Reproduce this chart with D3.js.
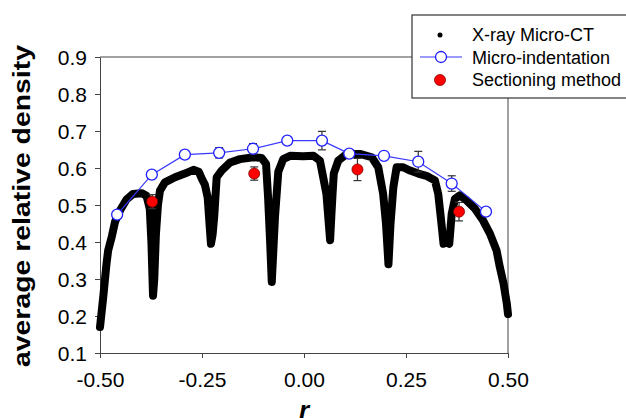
<!DOCTYPE html>
<html>
<head>
<meta charset="utf-8">
<script src="https://cdn.jsdelivr.net/npm/d3@7"></script>
<style>
  body { margin: 0; background: #fff; }
  svg { display: block; font-family: "Liberation Sans", Arial, sans-serif; }
</style>
</head>
<body>
<div id="chart"></div>
<script>
// X-ray Micro-CT profile
var ctR = [-0.500, -0.492, -0.488, -0.484, -0.480, -0.471, -0.463, -0.451, -0.435, -0.419,
  -0.398, -0.386, -0.378, -0.374, -0.370, -0.367, -0.363, -0.358, -0.353, -0.341,
  -0.316, -0.292, -0.271, -0.258, -0.250, -0.243, -0.236, -0.231, -0.228, -0.224,
  -0.220, -0.214, -0.202, -0.181, -0.157, -0.124, -0.104, -0.093, -0.088, -0.083,
  -0.079, -0.075, -0.071, -0.063, -0.051, -0.034, -0.002, 0.023, 0.039, 0.047,
  0.055, 0.060, 0.064, 0.067, 0.070, 0.073, 0.084, 0.105, 0.137, 0.166,
  0.182, 0.194, 0.201, 0.207, 0.212, 0.219, 0.227, 0.243, 0.260, 0.280,
  0.300, 0.321, 0.329, 0.337, 0.342, 0.350, 0.356, 0.362, 0.370, 0.382,
  0.399, 0.419, 0.439, 0.456, 0.472, 0.480, 0.489, 0.497, 0.500];
var ctD = [0.170, 0.252, 0.297, 0.342, 0.377, 0.415, 0.455, 0.485, 0.515, 0.530,
  0.532, 0.525, 0.490, 0.400, 0.255, 0.300, 0.420, 0.500, 0.539, 0.561,
  0.575, 0.585, 0.595, 0.590, 0.570, 0.555, 0.520, 0.440, 0.395, 0.420,
  0.470, 0.575, 0.593, 0.615, 0.624, 0.629, 0.627, 0.611, 0.520, 0.400,
  0.292, 0.380, 0.470, 0.590, 0.624, 0.633, 0.632, 0.633, 0.620, 0.575,
  0.530, 0.460, 0.405, 0.470, 0.530, 0.585, 0.620, 0.638, 0.638, 0.629,
  0.602, 0.530, 0.449, 0.340, 0.449, 0.548, 0.602, 0.602, 0.593, 0.585,
  0.579, 0.566, 0.530, 0.449, 0.395, 0.400, 0.395, 0.476, 0.517, 0.526,
  0.512, 0.490, 0.458, 0.422, 0.377, 0.332, 0.288, 0.234, 0.205];

// Micro-indentation
var miR = [-0.458, -0.373, -0.292, -0.208, -0.125, -0.041, 0.044, 0.111, 0.196, 0.280, 0.362, 0.446];
var miD = [0.474, 0.582, 0.636, 0.641, 0.652, 0.674, 0.674, 0.639, 0.633, 0.617, 0.558, 0.482];
var miErr = [0.008, 0.010, 0.010, 0.014, 0.014, 0.008, 0.025, 0.008, 0.008, 0.028, 0.021, 0.008];

// Sectioning method
var smR = [-0.372, -0.122, 0.131, 0.380];
var smD = [0.509, 0.585, 0.596, 0.482];
var smErr = [0.019, 0.018, 0.030, 0.025];

var xTicks = [-0.5, -0.25, 0, 0.25, 0.5];
var yTicks = [0.1, 0.2, 0.3, 0.4, 0.5, 0.6, 0.7, 0.8, 0.9];
var legendLabels = ["X-ray Micro-CT", "Micro-indentation", "Sectioning method"];

var width = 626, height = 418;
var svg = d3.select("#chart").append("svg")
    .attr("width", width)
    .attr("height", height);

var x = d3.scaleLinear().domain([-0.5, 0.5]).range([100, 508]);
var y = d3.scaleLinear().domain([0.1, 0.9]).range([353, 57]);

// frame top / right
svg.append("line")
  .attr("x1", x(-0.5)).attr("x2", x(0.5))
  .attr("y1", y(0.9)).attr("y2", y(0.9))
  .attr("stroke", "#444").attr("stroke-width", 1);
svg.append("line")
  .attr("x1", x(0.5)).attr("x2", x(0.5))
  .attr("y1", y(0.9)).attr("y2", y(0.1))
  .attr("stroke", "#444").attr("stroke-width", 1);

// axes
var xAxis = svg.append("g")
  .attr("transform", "translate(0," + y(0.1) + ")")
  .call(d3.axisBottom(x).tickValues(xTicks).tickSize(5).tickSizeOuter(0)
    .tickFormat(function(d) { return d.toFixed(2); }));
var yAxis = svg.append("g")
  .attr("transform", "translate(" + x(-0.5) + ",0)")
  .call(d3.axisLeft(y).tickValues(yTicks).tickSize(5).tickSizeOuter(0)
    .tickFormat(function(d) { return d.toFixed(1); }));

[xAxis, yAxis].forEach(function(a) {
  a.select(".domain").attr("stroke", "#444");
  a.selectAll(".tick line").attr("stroke", "#444");
  a.selectAll("text")
    .attr("fill", "#000")
    .style("font-size", "21px")
    .style("font-family", "'Liberation Sans', Arial, sans-serif");
});
xAxis.selectAll("text").attr("dy", null).attr("y", 34);
yAxis.selectAll("text").attr("x", -13).attr("dy", "0.36em");

// axis titles
svg.append("text")
  .attr("transform", "translate(30," + 206 + ") rotate(-90)")
  .attr("text-anchor", "middle")
  .attr("textLength", 322)
  .attr("lengthAdjust", "spacingAndGlyphs")
  .style("font-size", "23px")
  .style("font-weight", "bold")
  .text("average relative density");
svg.append("text")
  .attr("x", x(0))
  .attr("y", 419)
  .attr("text-anchor", "middle")
  .style("font-size", "26px")
  .style("font-weight", "bold")
  .style("font-style", "italic")
  .text("r");

// Micro-CT curve
var ctData = ctR.map(function(r, i) { return [r, ctD[i]]; });
var line = d3.line()
  .x(function(d) { return x(d[0]); })
  .y(function(d) { return y(d[1]); });
svg.append("path")
  .datum(ctData)
  .attr("d", line)
  .attr("fill", "none")
  .attr("stroke", "#000")
  .attr("stroke-width", 8)
  .attr("stroke-linejoin", "round")
  .attr("stroke-linecap", "round");

// error bars
function errorBars(rs, ds, es) {
  var g = svg.append("g").attr("stroke", "#333").attr("stroke-width", 1.2);
  rs.forEach(function(r, i) {
    var cx = x(r), y0 = y(ds[i] - es[i]), y1 = y(ds[i] + es[i]);
    g.append("line").attr("x1", cx).attr("x2", cx).attr("y1", y0).attr("y2", y1);
    g.append("line").attr("x1", cx - 4).attr("x2", cx + 4).attr("y1", y0).attr("y2", y0);
    g.append("line").attr("x1", cx - 4).attr("x2", cx + 4).attr("y1", y1).attr("y2", y1);
  });
}
errorBars(miR, miD, miErr);
errorBars(smR, smD, smErr);

// Micro-indentation
var miData = miR.map(function(r, i) { return [r, miD[i]]; });
svg.append("path")
  .datum(miData)
  .attr("d", line)
  .attr("fill", "none")
  .attr("stroke", "#3838ff")
  .attr("stroke-width", 1.2);
svg.selectAll(".mi").data(miData).enter().append("circle")
  .attr("class", "mi")
  .attr("cx", function(d) { return x(d[0]); })
  .attr("cy", function(d) { return y(d[1]); })
  .attr("r", 5.5)
  .attr("fill", "#fff")
  .attr("stroke", "#2020ff")
  .attr("stroke-width", 1.3);

// Sectioning method
var smData = smR.map(function(r, i) { return [r, smD[i]]; });
svg.selectAll(".sm").data(smData).enter().append("circle")
  .attr("class", "sm")
  .attr("cx", function(d) { return x(d[0]); })
  .attr("cy", function(d) { return y(d[1]); })
  .attr("r", 5.5)
  .attr("fill", "#ff0000")
  .attr("stroke", "#700")
  .attr("stroke-width", 0.8);

// legend
var legend = svg.append("g");
legend.append("rect")
  .attr("x", 412).attr("y", 15)
  .attr("width", 220).attr("height", 83)
  .attr("fill", "#fff")
  .attr("stroke", "#333").attr("stroke-width", 1.2);
legend.append("circle").attr("cx", 440).attr("cy", 35).attr("r", 2.5).attr("fill", "#000");
legend.append("line").attr("x1", 420).attr("x2", 462).attr("y1", 57).attr("y2", 57)
  .attr("stroke", "#3838ff").attr("stroke-width", 1.2);
legend.append("circle").attr("cx", 441).attr("cy", 57).attr("r", 5.5)
  .attr("fill", "#fff").attr("stroke", "#2020ff").attr("stroke-width", 1.3);
legend.append("circle").attr("cx", 440).attr("cy", 80).attr("r", 5.5)
  .attr("fill", "#ff0000").attr("stroke", "#700").attr("stroke-width", 0.8);
legend.selectAll(".lt").data(legendLabels).enter().append("text")
  .attr("class", "lt")
  .attr("x", 472)
  .attr("y", function(d, i) { return 35 + i * 22.5; })
  .attr("dy", "0.35em")
  .style("font-size", "18px")
  .text(function(d) { return d; });
</script>
</body>
</html>
